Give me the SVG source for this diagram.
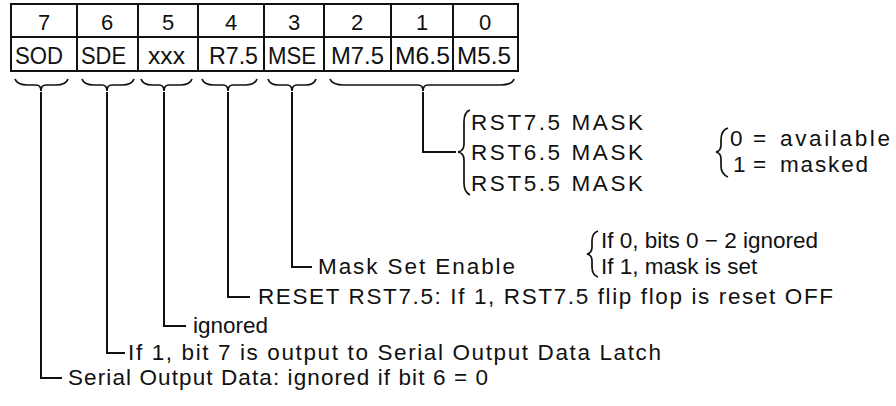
<svg xmlns="http://www.w3.org/2000/svg" width="896" height="406" viewBox="0 0 896 406">
<style>
.t{font-family:"Liberation Sans",Arial,sans-serif;font-size:22.5px;fill:#111}
.d{font-size:22px;text-anchor:middle}
.l{font-size:23px}
.ln{fill:none;stroke:#111;stroke-width:2}
.br{fill:none;stroke:#111;stroke-width:1.7}
</style>
<rect width="896" height="406" fill="#fff"/>
<g id="register">
<rect class="ln" x="11" y="4" width="507" height="67"/>
<line class="ln" x1="11" y1="37" x2="518" y2="37"/>
<path class="ln" d="M77 4V71M138 4V71M198 4V71M264 4V71M324 4V71M391 4V71M453 4V71"/>
<text class="t d" x="44" y="30">7</text>
<text class="t d" x="107" y="30">6</text>
<text class="t d" x="168" y="30">5</text>
<text class="t d" x="231" y="30">4</text>
<text class="t d" x="294" y="30">3</text>
<text class="t d" x="357" y="30">2</text>
<text class="t d" x="422" y="30">1</text>
<text class="t d" x="485" y="30">0</text>
<text class="t l" x="15" y="64" textLength="48" lengthAdjust="spacingAndGlyphs">SOD</text>
<text class="t l" x="81" y="64" textLength="45" lengthAdjust="spacingAndGlyphs">SDE</text>
<text class="t l" x="148" y="64" textLength="37" lengthAdjust="spacingAndGlyphs">xxx</text>
<text class="t l" x="209" y="64" textLength="49" lengthAdjust="spacingAndGlyphs">R7.5</text>
<text class="t l" x="268" y="64" textLength="48" lengthAdjust="spacingAndGlyphs">MSE</text>
<text class="t l" x="331" y="64" textLength="53" lengthAdjust="spacingAndGlyphs">M7.5</text>
<text class="t l" x="395" y="64" textLength="55" lengthAdjust="spacingAndGlyphs">M6.5</text>
<text class="t l" x="457" y="64" textLength="54" lengthAdjust="spacingAndGlyphs">M5.5</text>
</g>
<g id="braces">
<path class="br" d="M15 79Q17 85 28 85H36Q41 85 41 91Q41 85 46 85H56Q66 85 68 79"/>
<path class="br" d="M82 79Q84 85 94 85H102Q107 85 107 91Q107 85 112 85H122Q132 85 134 79"/>
<path class="br" d="M141 79Q143 85 152 85H159Q164 85 164 91Q164 85 169 85H180Q190 85 192 79"/>
<path class="br" d="M202 79Q204 85 214 85H223Q228 85 228 91Q228 85 233 85H245Q255 85 257 79"/>
<path class="br" d="M268 79Q270 85 278 85H287Q292 85 292 91Q292 85 297 85H306Q314 85 316 79"/>
<path class="br" d="M330 79Q332 85 344 85H418Q423 85 423 91Q423 85 428 85H500Q512 85 514 79"/>
</g>
<g id="connectors">
<path class="ln" d="M41 92V378H62"/>
<path class="ln" d="M107 92V353H125"/>
<path class="ln" d="M164 92V326H186"/>
<path class="ln" d="M228 92V297H250"/>
<path class="ln" d="M292 92V267H312"/>
<path class="ln" d="M423 92V152H456"/>
</g>
<g id="mask-bits">
<path class="br" d="M470 110Q464 112 464 122V144Q464 151 458 152Q464 153 464 160V183Q464 192 470 195"/>
<text class="t" x="471" y="130" textLength="172" lengthAdjust="spacing">RST7.5 MASK</text>
<text class="t" x="471" y="160" textLength="172" lengthAdjust="spacing">RST6.5 MASK</text>
<text class="t" x="471" y="191" textLength="172" lengthAdjust="spacing">RST5.5 MASK</text>
</g>
<g id="mask-values">
<path class="br" d="M728 128Q721 130 721 140V145Q721 151 716 152Q721 153 721 159V166Q721 174 728 177"/>
<text class="t" x="730" y="146">0</text>
<text class="t" x="753" y="146">=</text>
<text class="t" x="780" y="146" textLength="110" lengthAdjust="spacing">available</text>
<text class="t" x="733" y="172">1</text>
<text class="t" x="753" y="172">=</text>
<text class="t" x="780" y="172" textLength="88" lengthAdjust="spacing">masked</text>
</g>
<g id="mse">
<text class="t" x="318" y="274" textLength="197" lengthAdjust="spacing">Mask Set Enable</text>
<path class="br" d="M598 231Q592 233 592 241V247Q592 253 587 254Q592 255 592 261V267Q592 275 598 277"/>
<text class="t" x="601" y="248">If 0, bits 0 − 2 ignored</text>
<text class="t" x="601" y="274">If 1, mask is set</text>
</g>
<g id="r75"><text class="t" x="258" y="304" textLength="575" lengthAdjust="spacing">RESET RST7.5:  If 1, RST7.5 flip flop is reset OFF</text></g>
<g id="x5"><text class="t" x="193" y="333">ignored</text></g>
<g id="sde"><text class="t" x="128" y="360" textLength="533" lengthAdjust="spacing">If 1, bit 7 is output to Serial Output Data Latch</text></g>
<g id="sod"><text class="t" x="68" y="385" textLength="420" lengthAdjust="spacing">Serial Output Data:  ignored if bit 6 = 0</text></g>
</svg>
